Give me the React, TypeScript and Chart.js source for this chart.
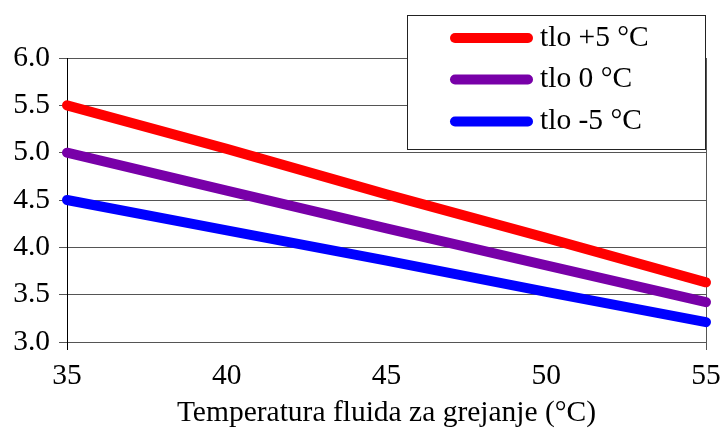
import React, { useEffect, useRef } from "react";
import { Chart, registerables } from "chart.js";

Chart.register(...registerables);

const xValues = [35, 40, 45, 50, 55];
const seriesPlus5 = [5.5, 5.04, 4.56, 4.1, 3.63];
const seriesZero = [5.0, 4.6, 4.2, 3.81, 3.42];
const seriesMinus5 = [4.5, 4.18, 3.86, 3.53, 3.21];
const seriesLabels = ["tlo +5 °C", "tlo 0 °C", "tlo -5 °C"];
const seriesColors = ["#ff0000", "#7800a8", "#0000ff"];
const xTitle = "Temperatura fluida za grejanje (°C)";
const FONT = "'Liberation Serif', 'Times New Roman', serif";

const boxLegend = {
  id: "boxLegend",
  afterDraw(chart: any) {
    const ctx = chart.ctx;
    const x0 = 407, y0 = 15, x1 = 705, y1 = 149;
    ctx.save();
    ctx.fillStyle = "#ffffff";
    ctx.fillRect(x0, y0, x1 - x0, y1 - y0);
    ctx.strokeStyle = "#222";
    ctx.lineWidth = 1;
    ctx.strokeRect(x0 + 0.5, y0 + 0.5, x1 - x0, y1 - y0);
    const rows = [38, 79.5, 121.5];
    chart.data.datasets.forEach((ds: any, i: number) => {
      const y = rows[i];
      ctx.strokeStyle = ds.borderColor;
      ctx.lineWidth = 10;
      ctx.lineCap = "round";
      ctx.beginPath();
      ctx.moveTo(455, y);
      ctx.lineTo(528, y);
      ctx.stroke();
      ctx.fillStyle = "#000";
      ctx.font = `29.5px ${FONT}`;
      ctx.textBaseline = "middle";
      ctx.textAlign = "left";
      ctx.fillText(ds.label, 540, y);
    });
    ctx.restore();
  },
};

export default function App() {
  const ref = useRef<HTMLCanvasElement>(null);
  useEffect(() => {
    document.body.style.margin = "0";
    const mk = (vals: number[]) => xValues.map((x, i) => ({ x, y: vals[i] }));
    const data = [seriesPlus5, seriesZero, seriesMinus5];
    const chart = new Chart(ref.current!, {
      type: "line",
      data: {
        datasets: data.map((vals, i) => ({
          label: seriesLabels[i],
          data: mk(vals),
          borderColor: seriesColors[i],
          backgroundColor: seriesColors[i],
          borderWidth: 10,
          borderCapStyle: "round",
          borderJoinStyle: "round",
          pointRadius: 0,
          tension: 0,
          clip: false,
        })),
      },
      options: {
        animation: false,
        responsive: false,
        layout: { padding: { top: 58, right: 16, left: 0, bottom: 0 } },
        plugins: { legend: { display: false }, tooltip: { enabled: false } },
        scales: {
          x: {
            type: "linear",
            min: 35,
            max: 55,
            ticks: {
              stepSize: 5,
              color: "#000",
              padding: 9,
              maxRotation: 0,
              font: { family: FONT, size: 29.5 },
            },
            grid: {
              color: (c: any) =>
                c.tick && c.tick.value === 35 ? "#000" : c.tick && c.tick.value === 55 ? "#555" : "rgba(0,0,0,0)",
              tickLength: 8,
              lineWidth: 1,
            },
            border: { display: false },
            title: {
              display: true,
              text: xTitle,
              color: "#000",
              padding: 0,
              font: { family: FONT, size: 29.5, lineHeight: 1 },
            },
            afterFit: (s: any) => {
              s.height = 86;
              s.paddingLeft = 0;
              s.paddingRight = 0;
            },
          },
          y: {
            min: 3,
            max: 6,
            ticks: {
              stepSize: 0.5,
              color: "#000",
              padding: 9,
              font: { family: FONT, size: 29.5 },
              callback: (v: any) => Number(v).toFixed(1),
            },
            grid: { color: "#555", tickLength: 8, lineWidth: 1 },
            border: { display: true, color: "#000", width: 1 },
            afterFit: (s: any) => {
              s.width = 67;
              s.paddingTop = 0;
              s.paddingBottom = 0;
            },
          },
        },
      },
      plugins: [boxLegend],
    });
    return () => chart.destroy();
  }, []);
  return <canvas ref={ref} width={722} height={428} style={{ display: "block" }} />;
}
